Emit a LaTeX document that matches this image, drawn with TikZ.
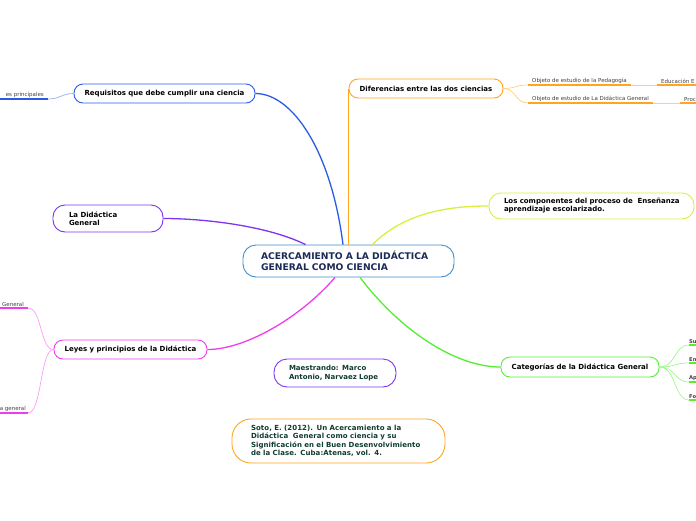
\documentclass[tikz,border=0pt]{standalone}
\usepackage{fontspec}
\setmainfont{DejaVu Sans}
\begin{document}
\begin{tikzpicture}[x=1pt,y=-1pt,
  box/.style={draw, line width=0.9pt, rounded corners=9pt, inner sep=0pt, font=\bfseries\fontsize{7}{8.4}\selectfont, text=black},
  leaf/.style={inner xsep=4pt, inner ysep=1.5pt, font=\fontsize{5.5}{6.5}\selectfont, text=black!75},
  main/.style={line width=1.3pt},
  sub/.style={line width=0.7pt},
  uline/.style={line width=1.6pt}
]
\definecolor{cblue}{HTML}{3F8FD0}
\definecolor{navy}{HTML}{1B2A57}
\definecolor{rblue}{HTML}{2A5BE8}
\definecolor{corange}{HTML}{FFA521}
\definecolor{cyellow}{HTML}{D9EE3F}
\definecolor{cpurple}{HTML}{8033F0}
\definecolor{cmag}{HTML}{EE3CEE}
\definecolor{cgreen}{HTML}{55EE33}
\definecolor{dgreen}{HTML}{0E3B30}
\useasboundingbox (0,0) rectangle (696,520);

% main nodes
\node[box, draw=cblue, rounded corners=13pt, minimum width=211pt, minimum height=32pt, text width=175pt, inner xsep=18pt, align=left, text=navy, font=\bfseries\fontsize{9.2}{11}\selectfont] (c) at (348.5,261) {ACERCAMIENTO A LA DIDÁCTICA\\GENERAL COMO CIENCIA};
\node[box, draw=rblue, minimum width=181pt, minimum height=19pt] (req) at (164.5,93.5) {Requisitos que debe cumplir una ciencia};
\node[box, draw=corange, minimum width=154pt, minimum height=19pt] (dif) at (426,88.5) {Diferencias entre las dos ciencias};
\node[box, draw=cyellow, rounded corners=12pt, minimum width=205pt, minimum height=26pt, text width=175pt, inner xsep=15pt, align=left, font=\bfseries\fontsize{7}{8}\selectfont] (comp) at (591.5,206) {\mbox{Los componentes del proceso de\ \ Enseñanza}\\\mbox{aprendizaje escolarizado.}};
\node[box, draw=cpurple, rounded corners=12pt, minimum width=110pt, minimum height=27pt, text width=78pt, inner xsep=16pt, align=left] (lad) at (108,218.5) {La Didáctica\\General};
\node[box, draw=cmag, minimum width=153pt, minimum height=19pt] (ley) at (130.5,349.5) {Leyes y principios de la Didáctica};
\node[box, draw=cgreen, minimum width=158pt, minimum height=20pt] (cat) at (580,367) {Categorías de la Didáctica General};
\node[box, draw=cpurple, rounded corners=13pt, minimum width=122pt, minimum height=28pt, text width=92pt, inner xsep=15pt, align=left, text=dgreen] (mae) at (335,373) {Maestrando: Marco\\Antonio, Narvaez Lope};
\node[box, draw=corange, rounded corners=19pt, minimum width=213pt, minimum height=44pt, text width=175pt, inner xsep=19pt, align=left, text=dgreen, font=\bfseries\fontsize{7}{8.4}\selectfont\addfontfeature{LetterSpace=1}] (soto) at (338.5,441) {\mbox{Soto, E. (2012). Un Acercamiento a la}\\\mbox{Didáctica\ \ General como ciencia y su}\\\mbox{Significación en el Buen Desenvolvimiento}\\\mbox{de la Clase. Cuba:Atenas, vol. 4.}};

% main connectors
\draw[main, rblue] ([xshift=-5.5pt]c.north) .. controls (331,150) and (292,93.5) .. (req.east);
\draw[main, corange] (dif.west |- c.north) -- (dif.west);
\draw[main, cyellow] ([xshift=24pt]c.north) .. controls (405,212) and (450,206) .. (comp.west);
\draw[main, cpurple] ([xshift=-43pt]c.north) .. controls (268,226) and (205,218.5) .. (lad.east);
\draw[main, cmag] ([xshift=-13.5pt]c.south) .. controls (300,318) and (245,349.5) .. (ley.east);
\draw[main, cgreen] ([xshift=11.5pt]c.south) .. controls (400,330) and (455,367) .. (cat.west);

% Requisitos leaf
\node[leaf, anchor=south east, align=right] (r1) at (48,99) {es principales};
\draw[uline, rblue] (0,99) -- (r1.south east);
\draw[sub, rblue!50] (req.west) .. controls (62,93.5) and (60,99) .. (r1.south east);

% Diferencias leaves
\node[leaf, anchor=south west] (d1) at (528,85) {Objeto de estudio de la Pedagogía};
\node[leaf, anchor=south west] (d2) at (528,103) {Objeto de estudio de La Didáctica General};
\draw[uline, corange] (d1.south west) -- (d1.south east);
\draw[uline, corange] (d2.south west) -- (d2.south east);
\draw[sub, corange!55] (dif.east) .. controls (516,88.5) and (515,85) .. (d1.south west);
\draw[sub, corange!55] (dif.east) .. controls (516,88.5) and (515,103) .. (d2.south west);
\node[leaf, anchor=south west] (d3) at (657,85) {Educación E};
\node[leaf, anchor=south west] (d4) at (680,103) {Proc};
\draw[uline, corange] (d3.south west) -- (696,85);
\draw[uline, corange] (d4.south west) -- (696,103);
\draw[sub, corange!55] (d1.south east) -- (d3.south west);
\draw[sub, corange!55] (d2.south east) -- (d4.south west);

% Leyes leaves
\node[leaf, anchor=south east] (l1) at (28,308) {General};
\node[leaf, anchor=south east, inner xsep=2pt] (l2) at (28,413) {a general};
\draw[uline, cmag] (0,308) -- (l1.south east);
\draw[uline, cmag] (0,413) -- (l2.south east);
\draw[sub, cmag!50] (ley.west) .. controls (40,349.5) and (42,308) .. (l1.south east);
\draw[sub, cmag!50] (ley.west) .. controls (40,349.5) and (42,413) .. (l2.south east);

% Categorias leaves
\foreach \n/\y/\t in {k1/345/Su, k2/363/En, k3/382/Ap, k4/400/Fo}{
  \node[leaf, anchor=south west, font=\bfseries\fontsize{5.2}{6}\selectfont, inner xsep=0pt] (\n) at (689,\y) {\t};
  \draw[uline, cgreen] (\n.south west) -- (696,\y);
  \draw[sub, cgreen!55] (cat.east) .. controls (676,367) and (674,\y) .. (\n.south west);
}
\end{tikzpicture}
\end{document}
